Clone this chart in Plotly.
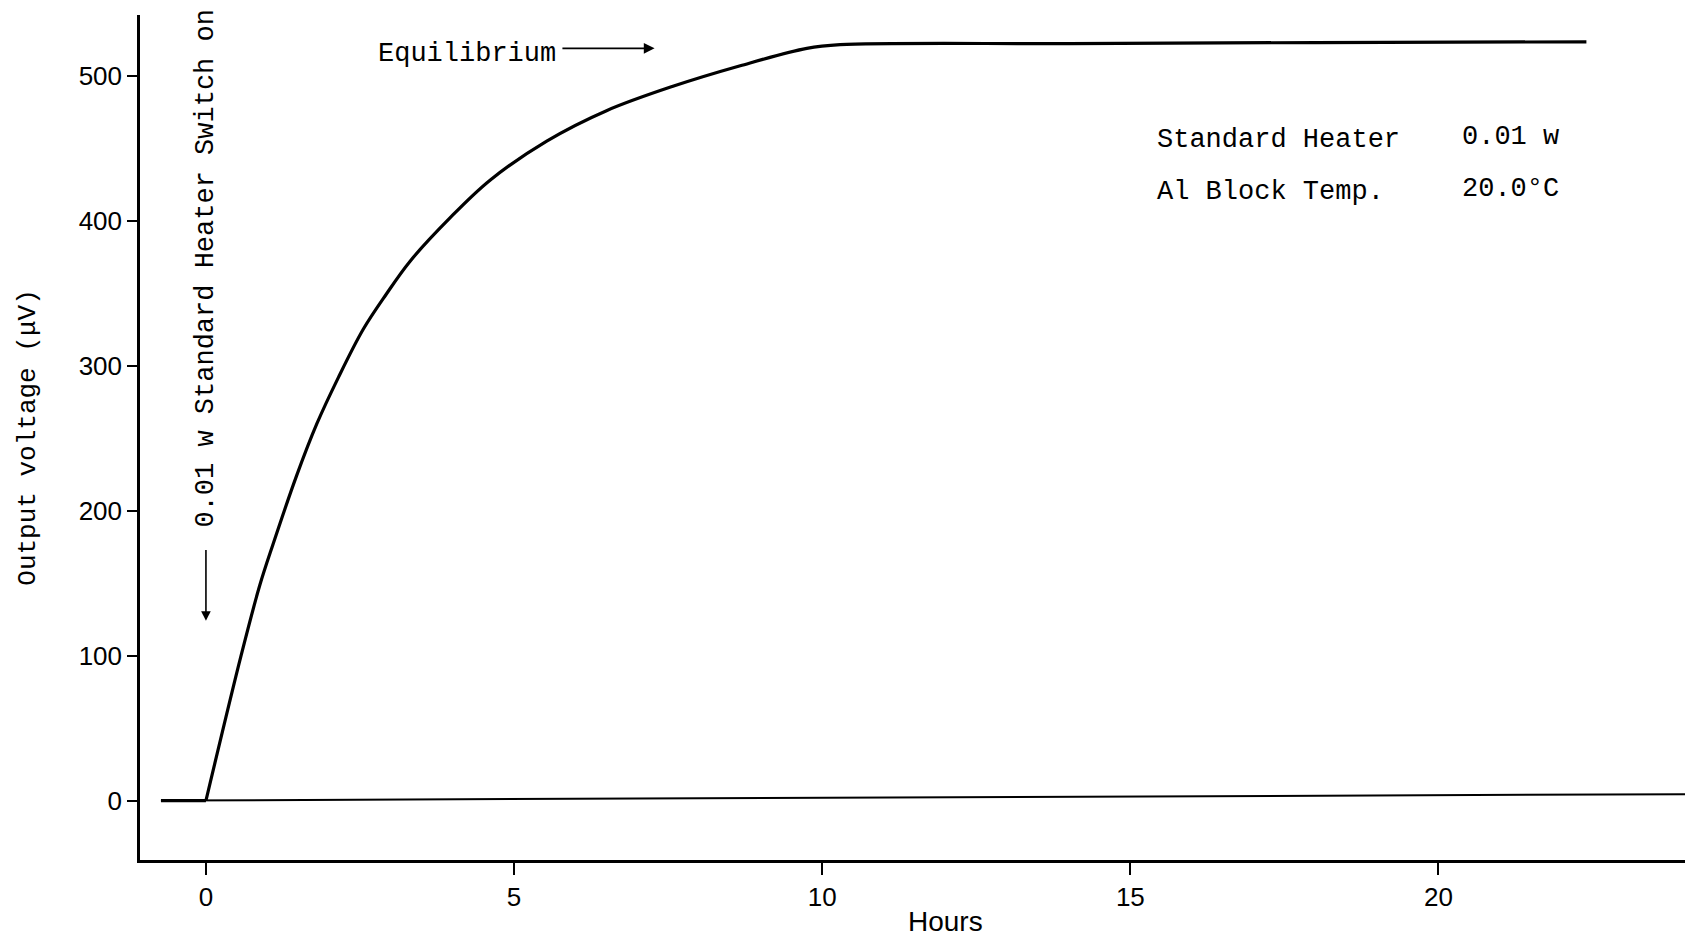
import plotly.graph_objects as go

# ---- data ----
pre_hours = [-0.73, 0.0]
pre_voltage = [0, 0]

hours = [0.0, 0.57, 0.87, 1.09, 1.47, 1.80, 2.15, 2.55, 2.92, 3.31,
         3.96, 4.61, 5.53, 6.50, 7.59, 8.67, 9.75, 10.29, 14.0, 18.0, 22.4]
voltage = [0, 100, 148, 177, 224, 260, 292, 325, 349, 372,
           402, 428, 455, 476, 493, 507, 519, 521.5, 522.3, 523, 523.5]

baseline_hours = [-0.73, 24.5]
baseline_volt = [0, 4.5]

x_ticks = [0, 5, 10, 15, 20]
y_ticks = [0, 100, 200, 300, 400, 500]

info_labels = ["Standard Heater", "Al Block Temp."]
info_values = ["0.01 w", "20.0°C"]
info_label_y = [456, 420]
info_value_y = [458, 422]

mono = "Liberation Mono, Courier New, monospace"
sans = "Liberation Sans, Arial, sans-serif"

fig = go.Figure()
fig.add_trace(go.Scatter(x=baseline_hours, y=baseline_volt, mode="lines",
                         line=dict(color="black", width=2), hoverinfo="skip"))
fig.add_trace(go.Scatter(x=pre_hours, y=pre_voltage, mode="lines",
                         line=dict(color="black", width=3.2), hoverinfo="skip"))
fig.add_trace(go.Scatter(x=hours, y=voltage, mode="lines",
                         line=dict(color="black", width=3.2, shape="spline", smoothing=1.0),
                         hoverinfo="skip"))

ann = []
# rotated heater switch-on label
ann.append(dict(x=0, y=367, xref="x", yref="y", text="0.01 w Standard Heater Switch on",
                showarrow=False, textangle=-90, font=dict(family=mono, size=27, color="black"),
                xanchor="center", yanchor="middle"))
# downward arrow under it
ann.append(dict(x=0, y=124, xref="x", yref="y", ax=0, ay=174, axref="x", ayref="y",
                showarrow=True, arrowhead=2, arrowsize=1.2, arrowwidth=1.6, arrowcolor="black",
                text=""))
# Equilibrium label + arrow
ann.append(dict(x=5.72, y=515, xref="x", yref="y", text="Equilibrium", showarrow=False,
                xanchor="right", yanchor="middle", font=dict(family=mono, size=27, color="black")))
ann.append(dict(x=7.28, y=519, xref="x", yref="y", ax=5.76, ay=519, axref="x", ayref="y",
                showarrow=True, arrowhead=2, arrowsize=1.2, arrowwidth=1.8, arrowcolor="black",
                text=""))
for lab, val, ly, vy in zip(info_labels, info_values, info_label_y, info_value_y):
    ann.append(dict(x=15.40, y=ly, xref="x", yref="y", text=lab, showarrow=False,
                    xanchor="left", yanchor="middle", font=dict(family=mono, size=27, color="black")))
    ann.append(dict(x=20.35, y=vy, xref="x", yref="y", text=val, showarrow=False,
                    xanchor="left", yanchor="middle", font=dict(family=mono, size=27, color="black")))
# x-axis title (off-centre in the original)
ann.append(dict(x=12.0, y=-0.073, xref="x", yref="paper", text="Hours", showarrow=False,
                xanchor="center", yanchor="middle", font=dict(family=sans, size=28, color="black")))

fig.update_layout(
    width=1685, height=936,
    margin=dict(l=140, r=0, t=15, b=76),
    paper_bgcolor="white", plot_bgcolor="white",
    showlegend=False,
    annotations=ann,
)
fig.update_xaxes(range=[-1.07, 24.0], tickvals=x_ticks, ticktext=[str(v) for v in x_ticks],
                 showgrid=False, zeroline=False, showline=True, linecolor="black", linewidth=2.5,
                 ticks="outside", ticklen=12, tickwidth=1.5, tickcolor="black",
                 tickfont=dict(family=sans, size=26, color="black"))
fig.update_yaxes(range=[-41, 542], tickvals=y_ticks, ticktext=[str(v) for v in y_ticks],
                 showgrid=False, zeroline=False, showline=True, linecolor="black", linewidth=2.5,
                 ticks="outside", ticklen=10, tickwidth=1.5, tickcolor="black",
                 tickfont=dict(family=sans, size=26, color="black"),
                 title=dict(text="Output voltage (μV)", font=dict(family=mono, size=26, color="black"),
                            standoff=36))

fig.write_html("out.html")
